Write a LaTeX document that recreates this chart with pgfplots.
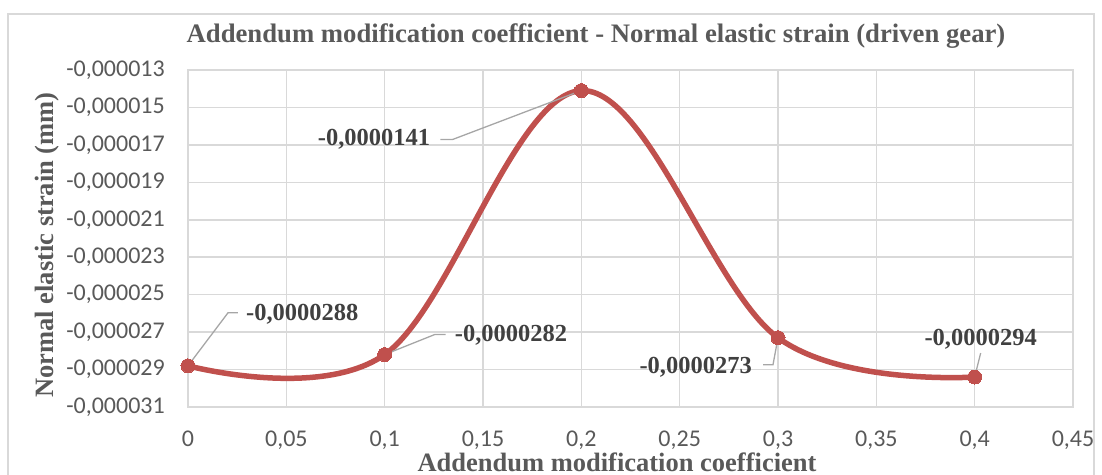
\documentclass[border=0pt]{standalone}
\usepackage{pgfplots}
\pgfplotsset{compat=1.18}
\usepackage{fontspec}
\setmainfont{Liberation Serif}
\newfontfamily\calibri{Carlito}

\definecolor{txtgray}{HTML}{595959}
\definecolor{lblgray}{HTML}{404040}
\definecolor{gridgray}{HTML}{D9D9D9}
\definecolor{leadgray}{HTML}{A6A6A6}
\definecolor{linered}{HTML}{C0504D}

% data label with a leader line: point, knee, end of leader, text pos, anchor, text
\newcommand{\datalabel}[6]{%
  \draw[leadgray, line width=1.3pt] (axis cs:#1) -- ([shift={#2}]axis cs:#1) -- ([shift={#3}]axis cs:#1);
  \node[anchor=#5, inner sep=0pt, text=lblgray, font=\bfseries\fontsize{24.5}{28}\selectfont]
    at ([shift={#4}]axis cs:#1) {#6};%
}

\begin{document}
\begin{tikzpicture}[x=1pt, y=1pt]
\begin{axis}[
  at={(0,0)}, anchor=south west,
  scale only axis,
  width=885pt, height=337pt,
  xmin=0, xmax=0.45,
  ymin=-0.000031, ymax=-0.000013,
  xtick={0,0.05,0.1,0.15,0.2,0.25,0.3,0.35,0.4,0.45},
  xticklabels={0,{0,05},{0,1},{0,15},{0,2},{0,25},{0,3},{0,35},{0,4},{0,45}},
  ytick={-0.000031,-0.000029,-0.000027,-0.000025,-0.000023,-0.000021,-0.000019,-0.000017,-0.000015,-0.000013},
  yticklabels={{-0,000031},{-0,000029},{-0,000027},{-0,000025},{-0,000023},{-0,000021},{-0,000019},{-0,000017},{-0,000015},{-0,000013}},
  grid=major,
  major grid style={gridgray, line width=1.6pt},
  axis line style={gridgray, line width=1.6pt},
  major tick length=0pt,
  tick label style={font=\calibri\fontsize{24}{28}\selectfont, text=txtgray, inner sep=0pt},
  yticklabel style={xshift=-23pt},
  xticklabel style={yshift=-23.5pt},
  scaled y ticks=false,
  clip=false,
]
\addplot[linered, line width=5.5pt, smooth, tension=0.6,
  mark=*, mark size=7pt, mark options={fill=linered, draw=linered, line width=0pt}]
  coordinates {(0,-0.0000288) (0.1,-0.0000282) (0.2,-0.0000141) (0.3,-0.0000273) (0.4,-0.0000294)};

\datalabel{0,-0.0000288}{(40pt,53pt)}{(50pt,53pt)}{(58pt,52pt)}{west}{-0,0000288}
\datalabel{0.1,-0.0000282}{(50pt,20pt)}{(61pt,20pt)}{(70pt,19pt)}{west}{-0,0000282}
\datalabel{0.2,-0.0000141}{(-129pt,-49pt)}{(-141pt,-49pt)}{(-151pt,-49pt)}{east}{-0,0000141}
\datalabel{0.3,-0.0000273}{(-5pt,-27pt)}{(-15pt,-27pt)}{(-26pt,-30pt)}{east}{-0,0000273}
\datalabel{0.4,-0.0000294}{(6pt,24pt)}{(6pt,24pt)}{(6pt,38pt)}{center}{-0,0000294}
\end{axis}

% page and chart frame
\useasboundingbox (-188,-67) rectangle (914,407);
\draw[gridgray, line width=1.5pt] (-180,-70) -- (-180,393) -- (906,393) -- (906,-70);

% titles
\node[anchor=base, inner sep=0pt, text=txtgray, font=\bfseries\fontsize{26.7}{30}\selectfont]
  at (408,364) {Addendum modification coefficient - Normal elastic strain (driven gear)};
\node[rotate=90, inner sep=0pt, text=txtgray, font=\bfseries\fontsize{26.5}{30}\selectfont]
  at (-141,162) {Normal elastic strain (mm)};
\node[anchor=base, inner sep=0pt, text=txtgray, font=\bfseries\fontsize{26.5}{30}\selectfont]
  at (429,-64) {Addendum modification coefficient};
\end{tikzpicture}
\end{document}
